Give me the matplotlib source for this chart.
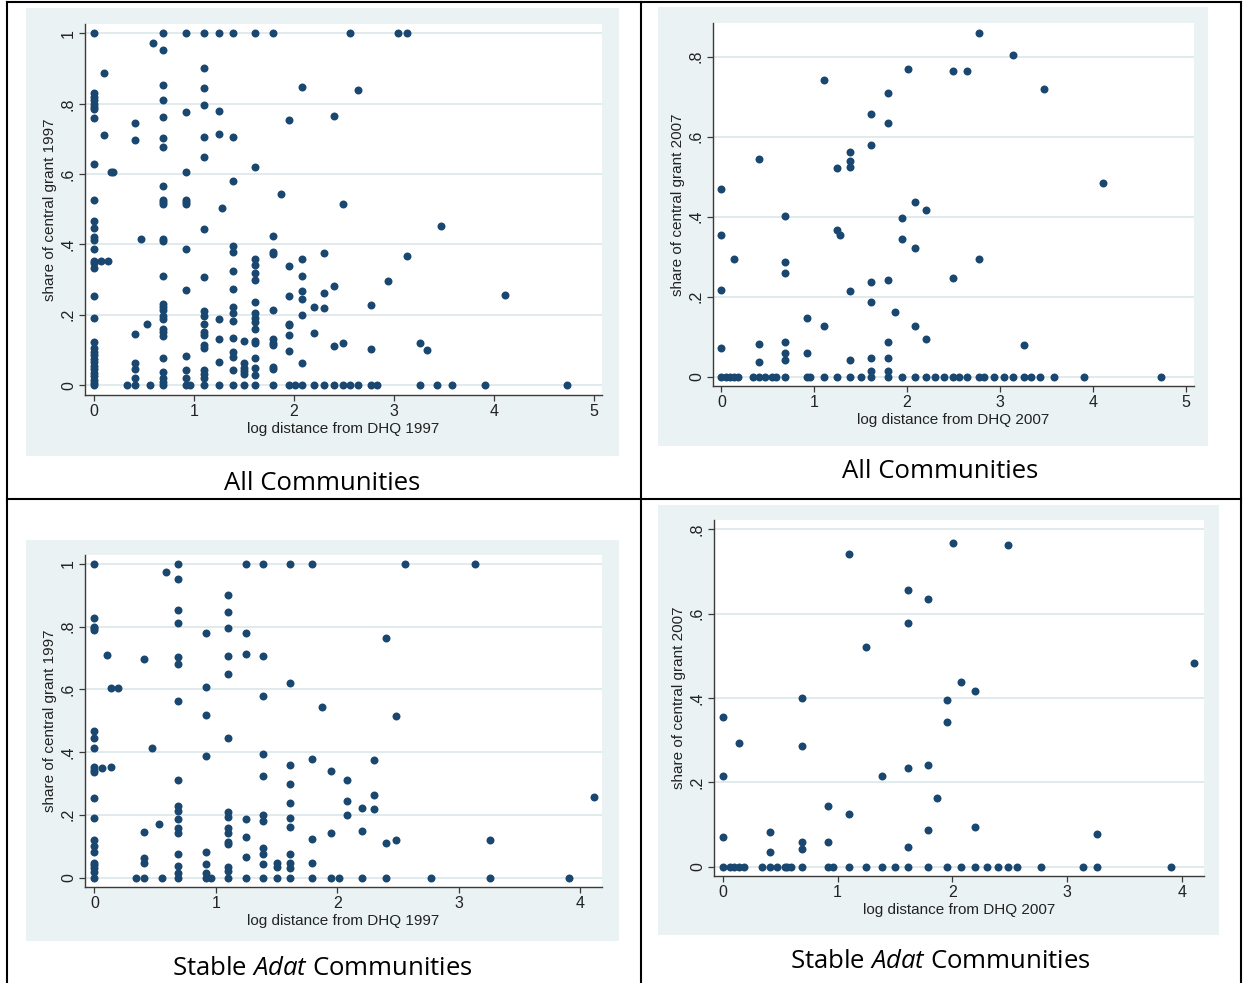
import matplotlib
matplotlib.use("Agg")
import matplotlib.pyplot as plt
from matplotlib.patches import Rectangle
from matplotlib.lines import Line2D

# ---- data: (log distance, [shares at that distance]) ----
all_1997 = [
    (0.00, [1.0, 0.83, 0.82, 0.81, 0.80, 0.79, 0.785, 0.76, 0.63, 0.527, 0.468, 0.446, 0.42, 0.414,
            0.386, 0.354, 0.348, 0.333, 0.253, 0.19, 0.123, 0.105, 0.095, 0.085, 0.075, 0.065, 0.055,
            0.045, 0.035, 0.025, 0.015, 0.005, 0.0]),
    (0.07, [0.352]), (0.10, [0.888, 0.711]), (0.14, [0.354]), (0.17, [0.605]), (0.19, [0.605]),
    (0.33, [0.0]), (0.41, [0.745, 0.697, 0.145, 0.064, 0.046, 0.021, 0.0]), (0.47, [0.415]),
    (0.53, [0.173]), (0.56, [0.0]), (0.59, [0.974]),
    (0.69, [1.0, 0.953, 0.853, 0.811, 0.763, 0.702, 0.678, 0.565, 0.527, 0.52, 0.515, 0.415, 0.409,
            0.31, 0.23, 0.222, 0.213, 0.197, 0.189, 0.161, 0.15, 0.14, 0.076, 0.038, 0.019, 0.01, 0.0]),
    (0.92, [1.0, 0.777, 0.607, 0.527, 0.52, 0.515, 0.386, 0.27, 0.083, 0.043, 0.019, 0.0]),
    (0.96, [0.0]),
    (1.10, [1.0, 0.901, 0.845, 0.797, 0.706, 0.65, 0.445, 0.307, 0.212, 0.196, 0.175, 0.15, 0.143,
            0.114, 0.107, 0.043, 0.033, 0.019, 0.0]),
    (1.25, [1.0, 0.78, 0.714, 0.188, 0.13, 0.066, 0.0]), (1.28, [0.503]),
    (1.39, [1.0, 0.706, 0.58, 0.396, 0.378, 0.325, 0.274, 0.221, 0.204, 0.182, 0.133, 0.095, 0.079,
            0.043, 0.0]),
    (1.50, [0.126, 0.062, 0.05, 0.04, 0.031, 0.0]),
    (1.61, [1.0, 0.62, 0.36, 0.342, 0.318, 0.3, 0.237, 0.204, 0.19, 0.18, 0.161, 0.126, 0.119, 0.076,
            0.049, 0.028, 0.0]),
    (1.79, [1.0, 0.425, 0.378, 0.373, 0.213, 0.13, 0.12, 0.113, 0.053, 0.047, 0.0]),
    (1.87, [0.543]), (1.95, [0.754, 0.34, 0.253, 0.175, 0.17, 0.143, 0.097, 0.0]), (2.01, [0.0]),
    (2.08, [0.848, 0.36, 0.31, 0.268, 0.244, 0.2, 0.063, 0.0]), (2.20, [0.223, 0.149, 0.0]),
    (2.30, [0.375, 0.263, 0.22, 0.0]), (2.40, [0.765, 0.283, 0.112, 0.0]), (2.49, [0.515, 0.12, 0.0]),
    (2.56, [1.0, 0.0]), (2.64, [0.839, 0.0]), (2.77, [0.227, 0.104, 0.0]), (2.83, [0.0]),
    (2.94, [0.295]), (3.04, [1.0]), (3.13, [1.0, 0.366]), (3.26, [0.12, 0.0]), (3.33, [0.099]),
    (3.43, [0.0]), (3.47, [0.454]), (3.58, [0.0]), (3.91, [0.0]), (4.11, [0.255]), (4.73, [0.0]),
]

all_2007 = [
    (0.00, [0.47, 0.355, 0.216, 0.071, 0.0]), (0.05, [0.0]), (0.09, [0.0]), (0.14, [0.294, 0.0]),
    (0.18, [0.0]), (0.34, [0.0]), (0.41, [0.545, 0.083, 0.037, 0.0]), (0.47, [0.0]), (0.54, [0.0]),
    (0.59, [0.0]), (0.69, [0.401, 0.287, 0.259, 0.088, 0.06, 0.043, 0.0]), (0.92, [0.146, 0.059, 0.0]),
    (0.95, [0.0]), (1.10, [0.742, 0.126, 0.0]), (1.25, [0.522, 0.366, 0.0]), (1.28, [0.355]),
    (1.39, [0.561, 0.539, 0.524, 0.214, 0.042, 0.0]), (1.50, [0.0]),
    (1.61, [0.657, 0.578, 0.236, 0.186, 0.047, 0.014, 0.0]),
    (1.79, [0.708, 0.634, 0.241, 0.088, 0.046, 0.014, 0.0]), (1.87, [0.162]),
    (1.95, [0.396, 0.344, 0.0]), (2.01, [0.768]), (2.08, [0.437, 0.323, 0.127, 0.0]),
    (2.20, [0.416, 0.094, 0.0]), (2.30, [0.0]), (2.40, [0.0]), (2.49, [0.763, 0.247, 0.0]),
    (2.56, [0.0]), (2.64, [0.764, 0.0]), (2.77, [0.858, 0.294, 0.0]), (2.83, [0.0]), (2.94, [0.0]),
    (3.04, [0.0]), (3.14, [0.805, 0.0]), (3.26, [0.079, 0.0]), (3.33, [0.0]), (3.43, [0.0]),
    (3.47, [0.72]), (3.58, [0.0]), (3.91, [0.0]), (4.11, [0.485]), (4.73, [0.0]),
]

stable_1997 = [
    (0.00, [1.0, 0.827, 0.80, 0.795, 0.79, 0.468, 0.445, 0.413, 0.351, 0.344, 0.335, 0.253, 0.189,
            0.121, 0.1, 0.083, 0.048, 0.04, 0.03, 0.019, 0.0]),
    (0.06, [0.349]), (0.10, [0.71]), (0.14, [0.353, 0.605]), (0.19, [0.605]), (0.34, [0.0]),
    (0.41, [0.697, 0.144, 0.064, 0.046, 0.0]), (0.47, [0.414]), (0.53, [0.172]), (0.56, [0.0]),
    (0.59, [0.975]),
    (0.69, [1.0, 0.952, 0.853, 0.812, 0.703, 0.68, 0.563, 0.311, 0.228, 0.212, 0.187, 0.157, 0.141,
            0.076, 0.037, 0.016, 0.0]),
    (0.92, [0.778, 0.608, 0.517, 0.386, 0.083, 0.042, 0.016, 0.0]), (0.96, [0.0]),
    (1.10, [0.901, 0.845, 0.796, 0.706, 0.65, 0.445, 0.21, 0.194, 0.157, 0.143, 0.112, 0.107, 0.035,
            0.022, 0.0]),
    (1.25, [1.0, 0.78, 0.714, 0.188, 0.13, 0.067, 0.0]),
    (1.39, [1.0, 0.705, 0.58, 0.393, 0.323, 0.201, 0.181, 0.095, 0.074, 0.042, 0.0]),
    (1.50, [0.046, 0.035, 0.0]),
    (1.61, [1.0, 0.619, 0.36, 0.297, 0.238, 0.189, 0.16, 0.074, 0.046, 0.031, 0.0]),
    (1.79, [1.0, 0.379, 0.122, 0.046, 0.0]), (1.87, [0.543]), (1.95, [0.339, 0.143, 0.0]),
    (2.01, [0.0]), (2.08, [0.31, 0.244, 0.198]), (2.20, [0.223, 0.147, 0.0]),
    (2.30, [0.374, 0.263, 0.22]), (2.40, [0.765, 0.111, 0.0]), (2.48, [0.515, 0.119]),
    (2.56, [1.0]), (2.77, [0.0]), (3.13, [1.0]), (3.26, [0.121, 0.0]), (3.91, [0.0]), (4.11, [0.256]),
]

stable_2007 = [
    (0.00, [0.354, 0.216, 0.071, 0.0]), (0.06, [0.0]), (0.10, [0.0]), (0.14, [0.294, 0.0]),
    (0.18, [0.0]), (0.34, [0.0]), (0.41, [0.082, 0.036, 0.0]), (0.47, [0.0]), (0.54, [0.0]),
    (0.56, [0.0]), (0.59, [0.0]), (0.69, [0.4, 0.286, 0.059, 0.043, 0.0]),
    (0.92, [0.144, 0.058, 0.0]), (0.96, [0.0]), (1.10, [0.741, 0.124, 0.0]), (1.25, [0.522, 0.0]),
    (1.39, [0.214, 0.0]), (1.50, [0.0]), (1.61, [0.657, 0.577, 0.234, 0.047, 0.0]),
    (1.79, [0.634, 0.242, 0.087, 0.0]), (1.87, [0.162]), (1.95, [0.396, 0.344, 0.0]),
    (2.01, [0.768]), (2.08, [0.437, 0.0]), (2.20, [0.416, 0.094, 0.0]), (2.30, [0.0]),
    (2.40, [0.0]), (2.49, [0.762, 0.0]), (2.56, [0.0]), (2.77, [0.0]), (3.14, [0.0]),
    (3.26, [0.078, 0.0]), (3.91, [0.0]), (4.11, [0.484]),
]

yticks_97 = [0, 0.2, 0.4, 0.6, 0.8, 1.0]
yticks_07 = [0, 0.2, 0.4, 0.6, 0.8]

W, H = 1243, 983
NAVY = "#1a476f"
BG = "#eaf2f3"
GRID = "#e1eaed"

plt.rcParams["mathtext.fontset"] = "custom"
plt.rcParams["mathtext.it"] = "Open Sans:italic"
plt.rcParams["mathtext.rm"] = "Open Sans"


def frac(x0, y0, x1, y1):
    # pixel box (top-left origin) -> figure fraction rect
    return [x0 / W, 1 - y1 / H, (x1 - x0) / W, (y1 - y0) / H]


def fmt(v):
    if v == 0:
        return "0"
    if v == 1:
        return "1"
    return ("%.1f" % v).lstrip("0")


fig = plt.figure(figsize=(W / 100, H / 100), dpi=100)
fig.patch.set_facecolor("white")

panels = [
    dict(data=all_1997, bg=(26, 8, 619, 456), box=(85, 24, 602, 395), xlim=(-0.09, 5.08),
         ylim=(-0.028, 1.027), xt=range(6), yt=yticks_97, year="1997",
         cap="All Communities", cx=322, cy=490),
    dict(data=all_2007, bg=(658, 7, 1208, 446), box=(713, 23, 1194, 386), xlim=(-0.09, 5.09),
         ylim=(-0.023, 0.884), xt=range(6), yt=yticks_07, year="2007",
         cap="All Communities", cx=940, cy=478),
    dict(data=stable_1997, bg=(26, 540, 619, 941), box=(85, 555, 602, 887), xlim=(-0.078, 4.18),
         ylim=(-0.030, 1.028), xt=range(5), yt=yticks_97, year="1997",
         cap="Stable $Adat$ Communities", cx=322, cy=975),
    dict(data=stable_2007, bg=(658, 505, 1219, 935), box=(714, 520, 1204, 876), xlim=(-0.078, 4.195),
         ylim=(-0.022, 0.822), xt=range(5), yt=yticks_07, year="2007",
         cap="Stable $Adat$ Communities", cx=940, cy=968),
]

for p in panels:
    bx0, by0, bx1, by1 = p["bg"]
    fig.add_artist(Rectangle((bx0 / W, 1 - by1 / H), (bx1 - bx0) / W, (by1 - by0) / H,
                             transform=fig.transFigure, facecolor=BG, edgecolor="none", zorder=0))
    ax = fig.add_axes(frac(*p["box"]))
    ax.set_facecolor("white")
    xs = [x for x, ys in p["data"] for _ in ys]
    ys = [y for x, yl in p["data"] for y in yl]
    ax.scatter(xs, ys, s=33, color=NAVY, linewidths=0, zorder=3)
    ax.set_xlim(*p["xlim"])
    ax.set_ylim(*p["ylim"])
    ax.set_xticks(list(p["xt"]))
    ax.set_xticklabels([str(t) for t in p["xt"]])
    ax.set_yticks(p["yt"])
    ax.set_yticklabels([fmt(v) for v in p["yt"]], rotation=90, va="center")
    ax.grid(axis="y", color=GRID, linewidth=1.4, zorder=1)
    ax.set_axisbelow(True)
    for s in ("top", "right"):
        ax.spines[s].set_visible(False)
    for s in ("left", "bottom"):
        ax.spines[s].set_color("#3a3a3a")
        ax.spines[s].set_linewidth(1.0)
    ax.tick_params(direction="out", length=4, width=0.9, color="#3a3a3a", pad=2.5,
                   labelsize=11.5, labelcolor="#222222")
    for lbl in ax.get_xticklabels() + ax.get_yticklabels():
        lbl.set_fontfamily("Liberation Sans")
    bw = p["box"][2] - p["box"][0]
    bh = p["box"][3] - p["box"][1]
    ax.set_xlabel("log distance from DHQ " + p["year"], fontsize=11, family="Liberation Sans",
                  color="#222222")
    ax.set_ylabel("share of central grant " + p["year"], fontsize=11, family="Liberation Sans",
                  color="#222222")
    ax.xaxis.set_label_coords(0.5, -27 / bh)
    ax.yaxis.set_label_coords(-28 / bw, 0.5)
    fig.text(p["cx"] / W, 1 - p["cy"] / H, p["cap"], ha="center", va="baseline",
             fontsize=18.5, family="Open Sans", color="black")

# table rules
lw = 1.5
rules = [((7, 2), (1241, 2)), ((7, 2), (7, 983)), ((1241, 2), (1241, 983)),
         ((640.5, 2), (640.5, 983)), ((7, 499), (1241, 499))]
for (x0, y0), (x1, y1) in rules:
    fig.add_artist(Line2D([x0 / W, x1 / W], [1 - y0 / H, 1 - y1 / H], transform=fig.transFigure,
                          color="black", linewidth=lw, zorder=5))

fig.savefig("out.png", dpi=100)
